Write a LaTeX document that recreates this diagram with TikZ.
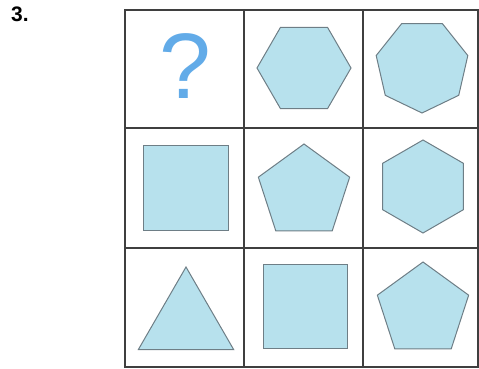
\documentclass[tikz,border=0pt]{standalone}
\usepackage{fontspec}
\setmainfont{Liberation Sans}
\usetikzlibrary{shapes.geometric}
\definecolor{gridline}{HTML}{3F3F3F}
\definecolor{shapefill}{HTML}{B7E1ED}
\definecolor{shapeedge}{HTML}{6E7E86}
\definecolor{qblue}{HTML}{62ABE8}

\begin{document}
\begin{tikzpicture}[x=1pt,y=-1pt,
  cell/.style={draw=gridline,line width=1.3pt,minimum width=119pt,minimum height=119pt,inner sep=0pt},
  fig/.style={draw=shapeedge,fill=shapefill,line width=1pt,inner sep=0pt,regular polygon}]
  \useasboundingbox (0,0) rectangle (479,369);

  % task number
  \node[font=\fontsize{21}{21}\bfseries\selectfont,anchor=base west,inner sep=0pt] (num) at (11,21.5) {3.};

  % grid
  \node[cell,minimum height=118pt] (c11) at (184.5,69) {};
  \node[cell,minimum height=118pt] (c12) at (303.5,69) {};
  \node[cell,minimum height=118pt,minimum width=115pt] (c13) at (420.5,69) {};
  \node[cell,minimum height=120pt] (c21) at (184.5,188) {};
  \node[cell,minimum height=120pt] (c22) at (303.5,188) {};
  \node[cell,minimum height=120pt,minimum width=115pt] (c23) at (420.5,188) {};
  \node[cell] (c31) at (184.5,307.5) {};
  \node[cell] (c32) at (303.5,307.5) {};
  \node[cell,minimum width=115pt] (c33) at (420.5,307.5) {};

  % row 1
  \node[font=\fontsize{93}{93}\selectfont,text=qblue,anchor=base,inner sep=0pt] (qmark) at (185,98) {?};
  \node[fig,regular polygon sides=6,minimum size=94pt] (hexa) at (304,68) {};
  \node[fig,regular polygon sides=7,regular polygon rotate=180,minimum size=94pt] (hepta) at (422,66) {};

  % row 2
  \node[fig,regular polygon sides=4,minimum size=120.2pt] (squa) at (185.5,188) {};
  \node[fig,regular polygon sides=5,minimum size=96pt] (penta) at (304,192) {};
  \node[fig,regular polygon sides=6,regular polygon rotate=30,minimum size=93pt] (hexb) at (423,186.5) {};

  % row 3
  \node[fig,regular polygon sides=3,minimum size=110pt] (tri) at (186,322) {};
  \node[fig,regular polygon sides=4,minimum size=118.8pt] (squb) at (305,306.5) {};
  \node[fig,regular polygon sides=5,minimum size=96pt] (pentb) at (423,310) {};
\end{tikzpicture}
\end{document}
